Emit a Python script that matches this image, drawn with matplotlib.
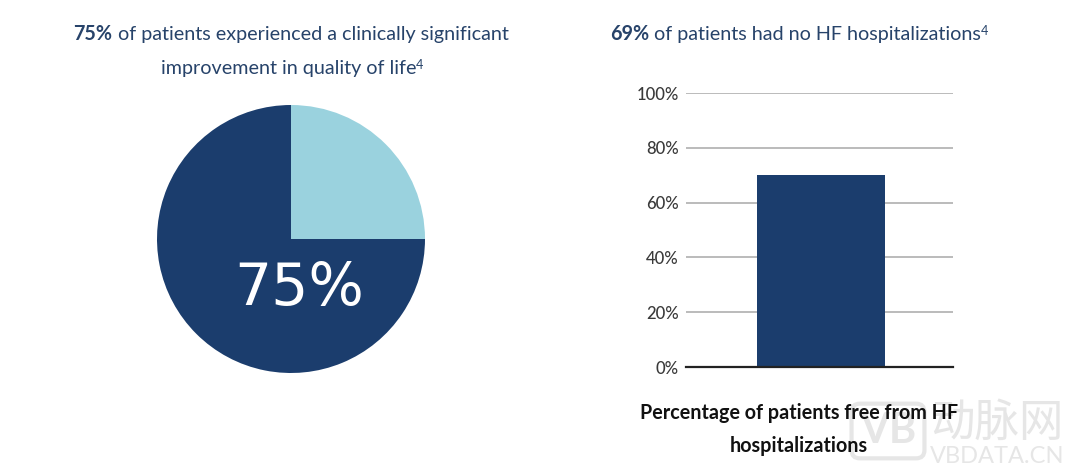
import numpy as np
import matplotlib.pyplot as plt

pie_values = [25, 75]
pie_colors = ['#9ad2de', '#1b3d6d']
pie_label = '75%'

bar_names = ['HF free']
bar_values = [70]
y_ticks = [0, 20, 40, 60, 80, 100]
y_labels = ['0%', '20%', '40%', '60%', '80%', '100%']

W, H = 1080, 473
navy = '#1b3d6d'
title_color = '#27436a'
mark = '#e6e6e6'
plt.rcParams['font.family'] = ['Lato', 'DejaVu Sans']

fig = plt.figure(figsize=(W / 100, H / 100), dpi=100)


def box(x0, y0, x1, y1):
    # pixel box (y from top) to figure coordinates
    return [x0 / W, 1 - y1 / H, (x1 - x0) / W, (y1 - y0) / H]


def line(parts, cx, y):
    # one centred line made of (text, size, weight, dy) pieces
    items = []
    width = 0
    r = fig.canvas.get_renderer()
    for s, size, weight, dy in parts:
        t = fig.text(0, 0, s, fontsize=size, fontweight=weight, color=title_color, va='baseline')
        w = t.get_window_extent(r).width
        if s.endswith(' '):
            w += size * 0.26
        items.append((t, w, dy))
        width += w
    x = cx - width / 2
    for t, w, dy in items:
        t.set_position((x / W, 1 - (y - dy) / H))
        x += w


# watermark goes first, the caption sits on top of it
fig.text(888 / W, 1 - 431 / H, 'VB', fontsize=30, fontweight='bold', color=mark, ha='center', va='center',
         zorder=1, bbox=dict(boxstyle='round,pad=0.2', fc='none', ec=mark, lw=3))
fig.text(997 / W, 1 - 423 / H, '动脉网', fontsize=32, color=mark, ha='center', va='center',
         family=['Noto Sans CJK SC', 'DejaVu Sans'], zorder=1)
fig.text(997 / W, 1 - 456 / H, 'VBDATA.CN', fontsize=17, color=mark, ha='center', va='center', zorder=1)

# left: pie
ax1 = fig.add_axes(box(157, 105, 425, 373))
ax1.pie(pie_values, colors=pie_colors, startangle=90, counterclock=False, radius=1)
ax1.set_xlim(-1, 1)
ax1.set_ylim(-1, 1)
ax1.text(0.06, -0.37, pie_label, color='white', fontsize=42, ha='center', va='center', family='DejaVu Sans')

line([('75%', 14.2, 'bold', 0), (' of patients experienced a clinically significant', 14.2, 'normal', 0)], 291, 40)
line([('improvement in quality of life', 14.2, 'normal', 0), ('4', 9, 'normal', 5)], 292, 74)

# right: bar
ax2 = fig.add_axes(box(686, 93, 953, 367))
ax2.patch.set_alpha(0)
ax2.bar(bar_names, bar_values, width=0.48, color=navy, zorder=3)
ax2.set_xlim(-0.506, 0.494)
ax2.set_ylim(0, 100)
ax2.set_yticks(y_ticks)
ax2.set_yticklabels(y_labels, fontsize=12, color='#3a3a3a', fontweight='medium')
ax2.set_xticks([])
ax2.tick_params(axis='y', length=0, pad=5)
ax2.grid(axis='y', color='#b5b5b5', linewidth=1.3, zorder=1)
ax2.set_axisbelow(True)
for side in ['top', 'left', 'right']:
    ax2.spines[side].set_visible(False)
ax2.spines['bottom'].set_color('#222222')
ax2.spines['bottom'].set_linewidth(1.6)
ax2.spines['bottom'].set_zorder(4)

line([('69%', 14.2, 'bold', 0), (' of patients had no HF hospitalizations', 14.2, 'normal', 0), ('4', 9, 'normal', 5)], 799, 40)

fig.text(799 / W, 1 - 419 / H, 'Percentage of patients free from HF', fontsize=14.2,
         fontweight='bold', color='#111111', ha='center', va='baseline', zorder=5)
fig.text(799 / W, 1 - 452 / H, 'hospitalizations', fontsize=14.2,
         fontweight='bold', color='#111111', ha='center', va='baseline', zorder=5)

fig.savefig('out.png', dpi=100)
